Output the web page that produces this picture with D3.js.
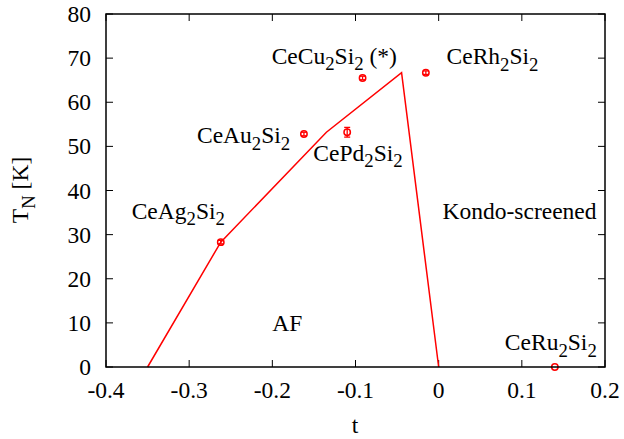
<!DOCTYPE html>
<html><head><meta charset="utf-8">
<script src="https://cdn.jsdelivr.net/npm/d3@7"></script>
<style>body{margin:0;background:#fff}svg{display:block}</style>
</head><body><svg id="c" width="624" height="439"></svg>
<script>
// phase boundary line
const lineT = [-0.35, -0.262, -0.135, -0.0446, 0.0];
const lineTN = [0, 28.3, 53.2, 66.7, 0];
// experimental points
const compounds = ["CeAg2Si2", "CeAu2Si2", "CePd2Si2", "CeCu2Si2", "CeRh2Si2", "CeRu2Si2"];
const pointT = [-0.262, -0.162, -0.110, -0.0915, -0.0154, 0.1397];
const pointTN = [28.3, 52.8, 53.2, 65.5, 66.7, 0];
const pointErr = [0.4, 0.4, 1.1, 0.4, 0.4, 0];
// labels: [text part, subscript flag]
const labelTexts = [
  [["CeAg",0],["2",1],["Si",0],["2",1]],
  [["CeAu",0],["2",1],["Si",0],["2",1]],
  [["CePd",0],["2",1],["Si",0],["2",1]],
  [["CeCu",0],["2",1],["Si",0],["2",1],[" (*)",0]],
  [["CeRh",0],["2",1],["Si",0],["2",1]],
  [["CeRu",0],["2",1],["Si",0],["2",1]],
  [["Kondo-screened",0]],
  [["AF",0]]
];
// label anchor positions in data coords (left of text, baseline)
const labelT = [-0.3691, -0.2906, -0.1507, -0.2008, 0.0095, 0.0796, 0.0047, -0.2];
const labelTN = [33.6, 50.7, 46.75, 68.67, 68.6, 3.85, 33.5, 8.2];
const xTicks = [-0.4, -0.3, -0.2, -0.1, 0, 0.1, 0.2];
const yTicks = [0, 10, 20, 30, 40, 50, 60, 70, 80];

const FONT = "'Liberation Serif', 'Times New Roman', 'DejaVu Serif', serif";
const svg = d3.select("#c").attr("font-family", FONT);
const L = 106, R = 605, T = 14, B = 367;
const x = d3.scaleLinear().domain([-0.4, 0.2]).range([L, R]);
const y = d3.scaleLinear().domain([0, 80]).range([B, T]);
const red = "#ff0000";
const fs = 23.5;
const subShift = 6.5;

// ticks (inward, mirrored)
const tl = 7;
const g = svg.append("g");
xTicks.forEach(v => {
  g.append("line").attr("x1", x(v)).attr("x2", x(v)).attr("y1", B).attr("y2", B - tl).attr("stroke", "#000");
  g.append("line").attr("x1", x(v)).attr("x2", x(v)).attr("y1", T).attr("y2", T + tl).attr("stroke", "#000");
  g.append("text").attr("x", x(v)).attr("y", 398).attr("text-anchor", "middle").attr("font-size", fs).attr("font-family", FONT).text(v === 0 ? "0" : String(v));
});
yTicks.forEach(v => {
  g.append("line").attr("x1", L).attr("x2", L + tl).attr("y1", y(v)).attr("y2", y(v)).attr("stroke", "#000");
  g.append("line").attr("x1", R).attr("x2", R - tl).attr("y1", y(v)).attr("y2", y(v)).attr("stroke", "#000");
  g.append("text").attr("x", 91).attr("y", y(v) + 8).attr("text-anchor", "end").attr("font-size", fs).attr("font-family", FONT).text(v);
});

// line
svg.append("path").datum(lineT.map((t, i) => [t, lineTN[i]]))
  .attr("d", d3.line().x(d => x(d[0])).y(d => y(d[1])))
  .attr("fill", "none").attr("stroke", red).attr("stroke-width", 1.5);

// points with error bars
const pts = svg.append("g");
pointT.forEach((t, i) => {
  const cx = x(t), cy = y(pointTN[i]);
  const e = pointErr[i];
  if (e > 0) {
    const y1 = y(pointTN[i] + e), y2 = y(pointTN[i] - e);
    pts.append("line").attr("x1", cx).attr("x2", cx).attr("y1", y1).attr("y2", y2).attr("stroke", red).attr("stroke-width", 1.3);
    [y1, y2].forEach(yy => pts.append("line").attr("x1", cx - 3).attr("x2", cx + 3).attr("y1", yy).attr("y2", yy).attr("stroke", red).attr("stroke-width", 1.3));
  }
  pts.append("circle").attr("cx", cx).attr("cy", cy).attr("r", 3.2).attr("fill", "none").attr("stroke", red).attr("stroke-width", 1.5);
});

// labels
labelTexts.forEach((parts, i) => {
  const t = svg.append("text").attr("x", x(labelT[i])).attr("y", y(labelTN[i])).attr("font-size", fs).attr("font-family", FONT);
  let sub = false;
  parts.forEach(([s, isSub]) => {
    const ts = t.append("tspan").text(s);
    if (isSub && !sub) { ts.attr("dy", subShift).attr("font-size", fs * 0.8); sub = true; }
    else if (isSub) { ts.attr("font-size", fs * 0.8); }
    else if (!isSub && sub) { ts.attr("dy", -subShift); sub = false; }
  });
});

// border
svg.append("rect").attr("x", L).attr("y", T).attr("width", R - L).attr("height", B - T)
  .attr("fill", "none").attr("stroke", "#000").attr("stroke-width", 1.5);

// axis titles
svg.append("text").attr("x", 355).attr("y", 433).attr("text-anchor", "middle").attr("font-size", fs).attr("font-family", FONT).text("t");
const yl = svg.append("text").attr("transform", "translate(28,190) rotate(-90)").attr("text-anchor", "middle").attr("font-size", fs).attr("font-family", FONT);
yl.append("tspan").text("T");
yl.append("tspan").attr("dy", subShift).attr("font-size", fs * 0.8).text("N");
yl.append("tspan").attr("dy", -subShift).text(" [K]");
</script></body></html>
